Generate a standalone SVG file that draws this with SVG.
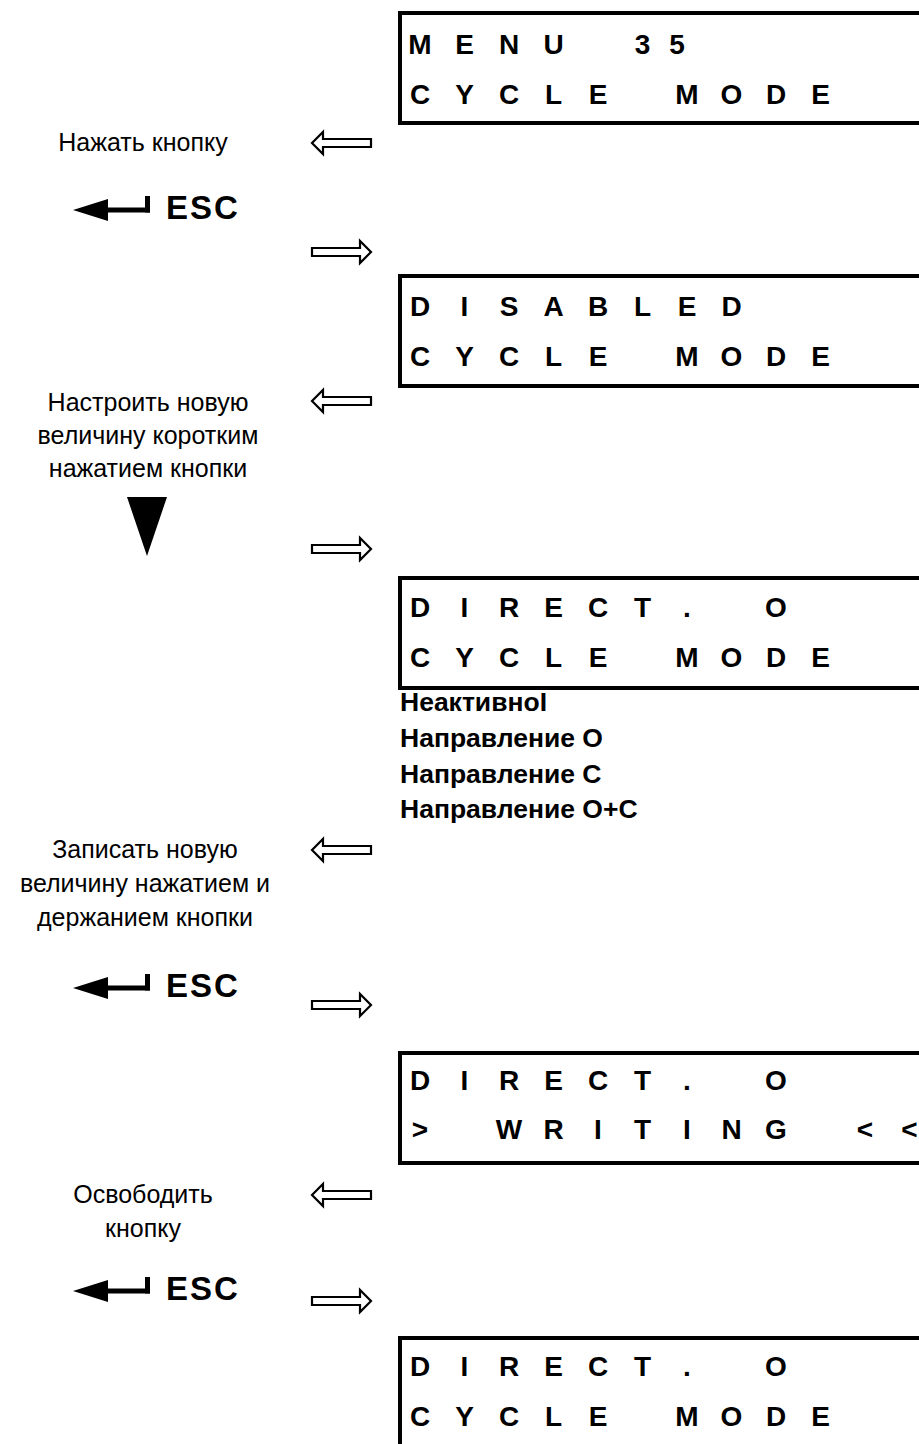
<svg xmlns="http://www.w3.org/2000/svg" width="919" height="1444" viewBox="0 0 919 1444">
<style>
.lcd{font-family:"Liberation Sans",Arial,sans-serif;font-weight:bold;font-size:28px;fill:#000;text-anchor:middle}
.box{fill:none;stroke:#000;stroke-width:4}
.lbl{font-family:"Liberation Sans",Arial,sans-serif;font-size:25px;fill:#000;text-anchor:middle}
.opt{font-family:"Liberation Sans",Arial,sans-serif;font-weight:bold;font-size:26.5px;fill:#000}
.esc{font-family:"Liberation Sans",Arial,sans-serif;font-weight:bold;font-size:33px;fill:#000;letter-spacing:2px}
.ha{fill:#fff;stroke:#000;stroke-width:2.2;stroke-linejoin:miter}
</style>
<defs>
<path id="la" class="ha" d="M0,0 L11,-11 L11,-4 L59,-4 L59,4 L11,4 L11,11 Z"/>
<path id="ra" class="ha" d="M59,0 L48,-11 L48,-4 L0,-4 L0,4 L48,4 L48,11 Z"/>
<g id="escsym">
<polygon points="0,0 35,-11 35,11" fill="#000"/>
<rect x="33" y="-2.5" width="44" height="5" fill="#000"/>
<rect x="72" y="-14" width="5" height="16.5" fill="#000"/>
</g>
</defs>

<g id="lcd1">
<rect class="box" x="400" y="13" width="600" height="110"/>
<text class="lcd" x="420 464.5 509 553.5 598 642.5 677" y="54">MENU 35</text>
<text class="lcd" x="420 464.5 509 553.5 598 642.5 687 731.5 776 820.5" y="104">CYCLE MODE</text>
</g>
<g id="step1">
<text class="lbl" x="143" y="151">Нажать кнопку</text>
</g>
<g id="esc1">
<use href="#escsym" x="73" y="210"/>
<text class="esc" x="166" y="219">ESC</text>
</g>

<g id="lcd2">
<rect class="box" x="400" y="276" width="600" height="110"/>
<text class="lcd" x="420 464.5 509 553.5 598 642.5 687 731.5" y="316">DISABLED</text>
<text class="lcd" x="420 464.5 509 553.5 598 642.5 687 731.5 776 820.5" y="366">CYCLE MODE</text>
</g>
<g id="step2">
<text class="lbl" x="148" y="411">Настроить новую</text>
<text class="lbl" x="148" y="444">величину коротким</text>
<text class="lbl" x="148" y="477">нажатием кнопки</text>
<polygon points="127,497 167,497 147,556" fill="#000"/>
</g>

<g id="lcd3">
<rect class="box" x="400" y="578" width="600" height="110"/>
<text class="lcd" x="420 464.5 509 553.5 598 642.5 687 731.5 776" y="617">DIRECT. O</text>
<text class="lcd" x="420 464.5 509 553.5 598 642.5 687 731.5 776 820.5" y="667">CYCLE MODE</text>
</g>
<g id="options">
<text class="opt" x="400" y="711">НеактивноI</text>
<text class="opt" x="400" y="747">Направление O</text>
<text class="opt" x="400" y="783">Направление C</text>
<text class="opt" x="400" y="818">Направление O+C</text>
</g>
<g id="step3">
<text class="lbl" x="145" y="858">Записать новую</text>
<text class="lbl" x="145" y="892">величину нажатием и</text>
<text class="lbl" x="145" y="926">держанием кнопки</text>
</g>
<g id="esc2">
<use href="#escsym" x="73" y="988"/>
<text class="esc" x="166" y="997">ESC</text>
</g>

<g id="lcd4">
<rect class="box" x="400" y="1053" width="600" height="110"/>
<text class="lcd" x="420 464.5 509 553.5 598 642.5 687 731.5 776" y="1090">DIRECT. O</text>
<text class="lcd" x="420 464.5 509 553.5 598 642.5 687 731.5 776 820.5 865 909.5" y="1139">&gt; WRITING &lt;&lt;</text>
</g>
<g id="step4">
<text class="lbl" x="143" y="1203">Освободить</text>
<text class="lbl" x="143" y="1237">кнопку</text>
</g>
<g id="esc3">
<use href="#escsym" x="73" y="1291"/>
<text class="esc" x="166" y="1300">ESC</text>
</g>

<g id="lcd5">
<rect class="box" x="400" y="1338" width="600" height="112"/>
<text class="lcd" x="420 464.5 509 553.5 598 642.5 687 731.5 776" y="1376">DIRECT. O</text>
<text class="lcd" x="420 464.5 509 553.5 598 642.5 687 731.5 776 820.5" y="1426">CYCLE MODE</text>
</g>

<g id="connectors">
<use href="#la" x="312" y="143"/>
<use href="#ra" x="312" y="252"/>
<use href="#la" x="312" y="401"/>
<use href="#ra" x="312" y="549"/>
<use href="#la" x="312" y="850"/>
<use href="#ra" x="312" y="1005"/>
<use href="#la" x="312" y="1195"/>
<use href="#ra" x="312" y="1301"/>
</g>
</svg>
